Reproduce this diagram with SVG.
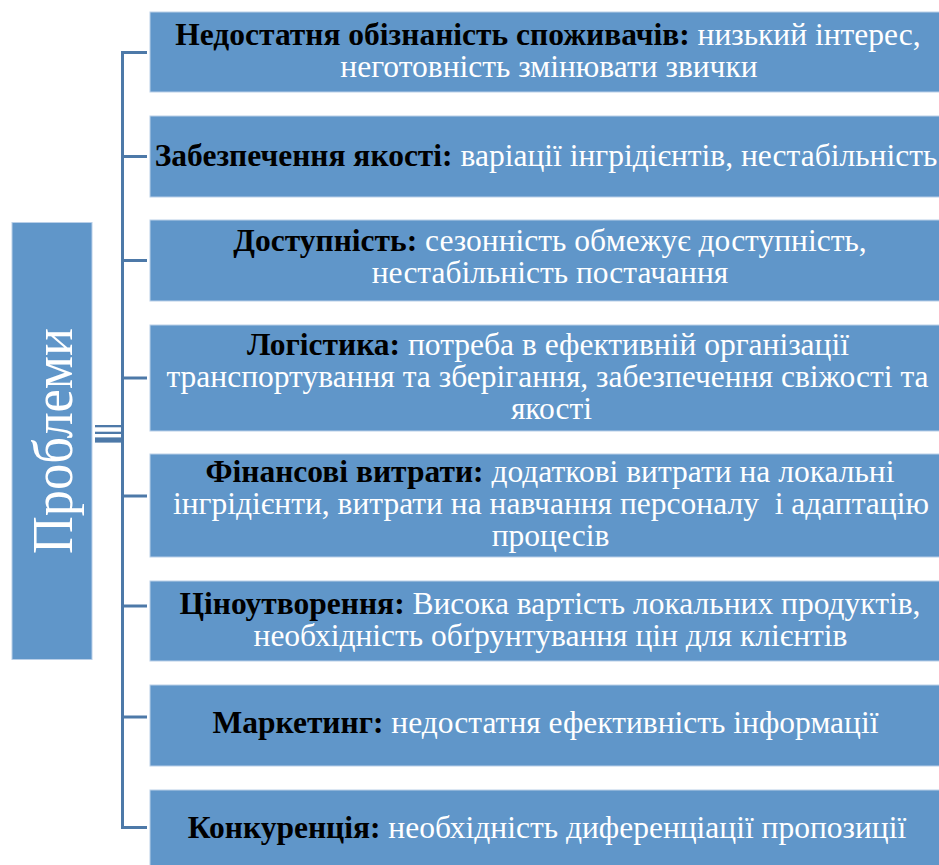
<svg xmlns="http://www.w3.org/2000/svg" width="939" height="865" viewBox="0 0 939 865">
<style>
.box{fill:#6096c9;stroke:#b9cfe8;stroke-width:1}
.t{font-family:"Liberation Serif","Times New Roman",serif;font-size:31.5px;fill:#ffffff;text-anchor:middle}
.b{font-weight:bold;fill:#000000}
.ln{stroke:#4d79a8;stroke-width:3;fill:none}
.big{font-family:"Liberation Serif","Times New Roman",serif;font-size:58px;fill:#ffffff;text-anchor:middle}
</style>
<rect width="939" height="865" fill="#ffffff"/>
<g id="connectors">
<line class="ln" x1="122.5" y1="51" x2="122.5" y2="829"/>
<line class="ln" x1="121" y1="52.5" x2="147" y2="52.5"/>
<line class="ln" x1="121" y1="156.5" x2="147" y2="156.5"/>
<line class="ln" x1="121" y1="260.5" x2="147" y2="260.5"/>
<line class="ln" x1="121" y1="378" x2="147" y2="378"/>
<line class="ln" x1="121" y1="496" x2="147" y2="496"/>
<line class="ln" x1="121" y1="606" x2="147" y2="606"/>
<line class="ln" x1="121" y1="717" x2="147" y2="717"/>
<line class="ln" x1="121" y1="827.5" x2="147" y2="827.5"/>
<rect x="95" y="425" width="27" height="2.3" fill="#4d79a8"/>
<rect x="95" y="431.7" width="27" height="2.3" fill="#4d79a8"/>
<rect x="95" y="437.4" width="27" height="5.2" fill="#4d79a8"/>
</g>
<g id="root">
<rect class="box" x="12" y="222.5" width="80" height="437"/>
<text class="big" transform="translate(72,441) rotate(-90)" textLength="226" lengthAdjust="spacingAndGlyphs">Проблеми</text>
</g>
<g id="n1">
<rect class="box" x="150" y="12" width="800" height="80"/>
<text class="t" x="548" y="45"><tspan class="b">Недостатня обізнаність споживачів:</tspan> низький інтерес,</text>
<text class="t" x="549" y="77">неготовність змінювати звички</text>
</g>
<g id="n2">
<rect class="box" x="150" y="116" width="800" height="81"/>
<text class="t" x="546" y="166"><tspan class="b">Забезпечення якості:</tspan> варіації інгрідієнтів, нестабільність</text>
</g>
<g id="n3">
<rect class="box" x="150" y="220" width="800" height="81"/>
<text class="t" x="550" y="251"><tspan class="b">Доступність:</tspan> сезонність обмежує доступність,</text>
<text class="t" x="550" y="283">нестабільність постачання</text>
</g>
<g id="n4">
<rect class="box" x="150" y="325" width="800" height="106"/>
<text class="t" x="548" y="355"><tspan class="b">Логістика:</tspan> потреба в ефективній організації</text>
<text class="t" x="547.5" y="387">транспортування та зберігання, забезпечення свіжості та</text>
<text class="t" x="551.5" y="419">якості</text>
</g>
<g id="n5">
<rect class="box" x="150" y="454" width="800" height="103"/>
<text class="t" x="550" y="482"><tspan class="b">Фінансові витрати:</tspan> додаткові витрати на локальні</text>
<text class="t" x="551" y="514" xml:space="preserve">інгрідієнти, витрати на навчання персоналу  і адаптацію</text>
<text class="t" x="550.5" y="546">процесів</text>
</g>
<g id="n6">
<rect class="box" x="150" y="581" width="800" height="80"/>
<text class="t" x="550" y="614"><tspan class="b">Ціноутворення:</tspan> Висока вартість локальних продуктів,</text>
<text class="t" x="550.5" y="646">необхідність обґрунтування цін для клієнтів</text>
</g>
<g id="n7">
<rect class="box" x="150" y="685" width="800" height="81"/>
<text class="t" x="545.5" y="733"><tspan class="b">Маркетинг:</tspan> недостатня ефективність інформації</text>
</g>
<g id="n8">
<rect class="box" x="150" y="790" width="800" height="80"/>
<text class="t" x="547" y="838"><tspan class="b">Конкуренція:</tspan> необхідність диференціації пропозиції</text>
</g>
</svg>
